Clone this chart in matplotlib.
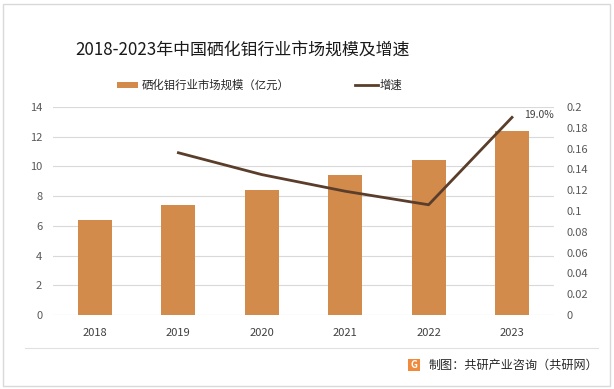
import matplotlib
matplotlib.use("Agg")
import matplotlib.pyplot as plt
from matplotlib.patches import Rectangle
from matplotlib.lines import Line2D

plt.rcParams['font.family'] = ['Noto Sans CJK SC', 'DejaVu Sans']

years = ["2018", "2019", "2020", "2021", "2022", "2023"]
market_size = [6.4, 7.4, 8.4, 9.4, 10.4, 12.4]
growth_years = ["2019", "2020", "2021", "2022", "2023"]
growth = [0.156, 0.135, 0.119, 0.106, 0.190]
left_ticks = [0, 2, 4, 6, 8, 10, 12, 14]
right_ticks = [0, 0.02, 0.04, 0.06, 0.08, 0.1, 0.12, 0.14, 0.16, 0.18, 0.2]

title = "2018-2023年中国硒化钼行业市场规模及增速"
bar_label = "硒化钼行业市场规模（亿元）"
line_label = "增速"
footer = "制图：共研产业咨询（共研网）"

bar_color = "#D38B4C"
line_color = "#5A3E2B"
grid_color = "#D9D9D9"
text_color = "#595959"

W, H = 614, 389
fig = plt.figure(figsize=(W / 100, H / 100), dpi=100)
fig.patch.set_facecolor("white")

# border
fig.add_artist(Rectangle((3 / W, 3 / H), 607 / W, 382 / H, transform=fig.transFigure,
                         fill=False, edgecolor="#D9D9D9", linewidth=1.0))

ax = fig.add_axes([53.3 / W, 74 / H, 500.4 / W, 208 / H])
x = list(range(len(years)))
ax.bar(x, market_size, width=0.41, color=bar_color, zorder=2)
ax.set_xlim(-0.5, len(years) - 0.5)
ax.set_ylim(0, 14)
ax.set_yticks(left_ticks)
ax.set_yticklabels([str(t) for t in left_ticks])
ax.set_xticks(x)
ax.set_xticklabels(years)
ax.grid(axis="y", color=grid_color, linewidth=0.8, zorder=0)
for s in ax.spines.values():
    s.set_visible(False)
ax.tick_params(axis="both", length=0, labelsize=8, colors=text_color)
ax.tick_params(axis="y", pad=8)
ax.tick_params(axis="x", pad=9)
for lbl in ax.get_xticklabels():
    lbl.set_color("#404040")

ax2 = ax.twinx()
gx = [years.index(y) for y in growth_years]
ax2.plot(gx, growth, color=line_color, linewidth=2.0, zorder=3)
ax2.set_ylim(0, 0.2)
ax2.set_yticks(right_ticks)
ax2.set_yticklabels([f"{t:g}" for t in right_ticks])
for s in ax2.spines.values():
    s.set_visible(False)
ax2.tick_params(axis="y", length=0, labelsize=8, colors=text_color, pad=9)
ax2.annotate(f"{growth[-1] * 100:.1f}%", (gx[-1], growth[-1]), xytext=(9, 2),
             textcoords="offset points", fontsize=7.5, color="#404040",
             ha="left", va="center")

# title
fig.text(243 / W, 1 - 50 / H, title, ha="center", va="center", fontsize=12.2, color="#1a1a1a")

# legend
fig.add_artist(Rectangle((117 / W, 1 - 88 / H), 21 / W, 6 / H, transform=fig.transFigure,
                         facecolor=bar_color, edgecolor="none"))
fig.text(142 / W, 1 - 85 / H, bar_label, ha="left", va="center", fontsize=8.2, color="#262626")
fig.add_artist(Line2D([355 / W, 378 / W], [1 - 85 / H, 1 - 85 / H], transform=fig.transFigure,
                      color=line_color, linewidth=2.0))
fig.text(380 / W, 1 - 85 / H, line_label, ha="left", va="center", fontsize=8.2, color="#262626")

# footer
fig.add_artist(Line2D([25 / W, 598 / W], [1 - 348 / H, 1 - 348 / H], transform=fig.transFigure,
                      color="#E0E0E0", linewidth=0.8))
fig.add_artist(Rectangle((408 / W, 1 - 371 / H), 12 / W, 12 / H, transform=fig.transFigure,
                         facecolor="#F08A3C", edgecolor="none"))
fig.text(414 / W, 1 - 365 / H, "G", ha="center", va="center", fontsize=7, color="white",
         fontweight="bold")
fig.text(429 / W, 1 - 365 / H, footer, ha="left", va="center", fontsize=8.7, color="#262626")

fig.savefig("out.png", dpi=100, facecolor="white")
